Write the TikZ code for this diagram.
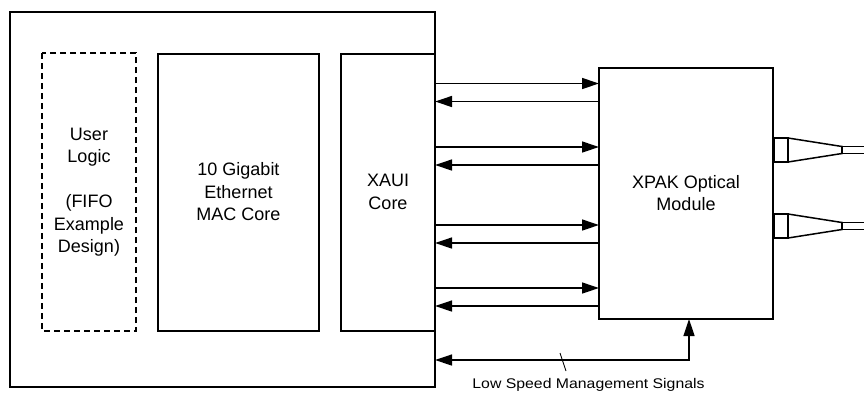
\documentclass[tikz,border=0pt]{standalone}
\usepackage{fontspec}
\setmainfont{Liberation Sans}
\usetikzlibrary{arrows.meta,calc}
\begin{document}
\begin{tikzpicture}[x=1pt,y=-1pt,
  boxed/.style={draw,line width=2.4pt,inner sep=0pt},
  lbl/.style={font=\fontsize{18}{22.5}\selectfont,align=center},
  sig/.style={line width=1.3pt,-{Triangle[length=17pt,width=11pt]}},
  fib/.style={line width=1.5pt}]
\useasboundingbox (0,0) rectangle (864,394);
% outer FPGA box
\draw[boxed] (10,12) rectangle (435,387);
\coordinate (fpgaE) at (435,200);
% inner boxes
\draw[line width=2pt,dash pattern=on 6pt off 4pt] (42,53) rectangle (136,331);
\node[lbl] (ul) at (89,192) {User\\Logic\\[22.5pt](FIFO\\Example\\Design)};
\draw[boxed] (158,54) rectangle (319,331);
\node[lbl] (mac) at (238.5,192) {10 Gigabit\\Ethernet\\MAC Core};
\draw[boxed] (341,54) rectangle (435,331);
\coordinate (xauiE) at (435,192);
\node[lbl] (xaui) at (388,192) {XAUI\\Core};
\draw[boxed] (599,68) rectangle (773,319);
\coordinate (xpakW) at (599,192);
\coordinate (xpakS) at (689,319);
\node[lbl] (xpak) at (686,193) {XPAK Optical\\Module};
% signal arrows
\foreach \ya/\yb in {83.5/101.5,147/165,225/243,288/306}{
  \draw[sig] (xauiE |- 0,\ya) -- (xpakW |- 0,\ya);
  \draw[sig] (xpakW |- 0,\yb) -- (xauiE |- 0,\yb);
}
% low speed management
\coordinate (lsm) at (689,360);
\draw[line width=1.3pt,{Triangle[length=17pt,width=11pt]}-{Triangle[length=17pt,width=11pt]}]
  (fpgaE |- lsm) -- (lsm) -- (xpakS);
\coordinate (tk1) at (560,353);
\coordinate (tk2) at (566,371);
\draw[line width=0.9pt] (tk1) -- (tk2);
\node[font=\fontsize{14}{16}\selectfont] (lsmlbl) at (588.5,385) {\scalebox{1.13}[1]{Low Speed Management Signals}};
% fiber connectors
\foreach \yc in {150,226}{
  \draw[fib] (774,\yc-12) rectangle (788,\yc+12);
  \draw[fib] (788,\yc-12) -- (842,\yc-3.5) -- (842,\yc+3.5) -- (788,\yc+12);
  \draw[fib] (864,\yc-3.5) -- (842,\yc-3.5) -- (842,\yc+3.5) -- (864,\yc+3.5);
}
\end{tikzpicture}
\end{document}
